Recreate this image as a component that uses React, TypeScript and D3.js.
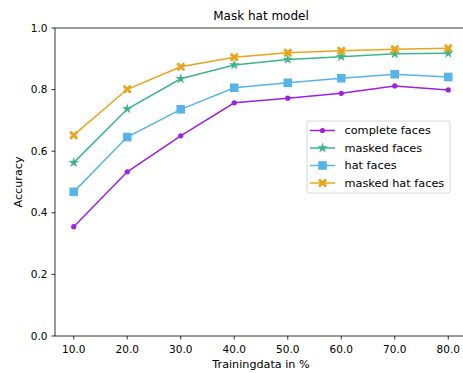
import React from "react";
import * as d3 from "d3";

const trainingShares = [10, 20, 30, 40, 50, 60, 70, 80];
const completeFaces = [0.355, 0.533, 0.65, 0.757, 0.772, 0.788, 0.812, 0.799];
const maskedFaces = [0.563, 0.737, 0.835, 0.88, 0.898, 0.907, 0.916, 0.918];
const hatFaces = [0.468, 0.646, 0.736, 0.806, 0.822, 0.837, 0.85, 0.841];
const maskedHatFaces = [0.652, 0.801, 0.874, 0.905, 0.92, 0.926, 0.931, 0.934];
const yTicks = [0, 0.2, 0.4, 0.6, 0.8, 1.0];

type Marker = "dot" | "star" | "square" | "x";
const series: { name: string; values: number[]; color: string; marker: Marker }[] = [
  { name: "complete faces", values: completeFaces, color: "#a020e0", marker: "dot" },
  { name: "masked faces", values: maskedFaces, color: "#3cb48c", marker: "star" },
  { name: "hat faces", values: hatFaces, color: "#56b4e9", marker: "square" },
  { name: "masked hat faces", values: maskedHatFaces, color: "#e8a41c", marker: "x" },
];

const W = 463;
const H = 373;
const M = { left: 55, right: 467, top: 28, bottom: 336 };
const FONT = "'DejaVu Sans', sans-serif";

const x = d3.scaleLinear().domain([6.5, 83.5]).range([M.left, M.right]);
const y = d3.scaleLinear().domain([0, 1]).range([M.bottom, M.top]);

const starPath = d3.symbol().type(d3.symbolStar).size(34)() as string;
const xPath = (() => {
  // filled, thick "X" marker
  const a = 4.5, t = 2.0;
  const pts: [number, number][] = [
    [-a, -a + t], [-a + t, -a], [0, -t], [a - t, -a], [a, -a + t], [t, 0],
    [a, a - t], [a - t, a], [0, t], [-a + t, a], [-a, a - t], [-t, 0],
  ];
  return "M" + pts.map((p) => p.join(",")).join("L") + "Z";
})();

function MarkerShape({ kind, color, cx, cy }: { kind: Marker; color: string; cx: number; cy: number }) {
  if (kind === "dot") return <circle cx={cx} cy={cy} r={2.6} fill={color} />;
  if (kind === "square")
    return <rect x={cx - 4.3} y={cy - 4.3} width={8.6} height={8.6} fill={color} />;
  if (kind === "star") return <path d={starPath} transform={`translate(${cx},${cy})`} fill={color} />;
  return <path d={xPath} transform={`translate(${cx},${cy})`} fill={color} />;
}

export default function App() {
  const line = d3
    .line<number>()
    .x((_, i) => x(trainingShares[i]))
    .y((v) => y(v));

  const legendX = 307;
  const legendY = 121;
  const rowH = 17.5;

  return (
    <div style={{ position: "absolute", left: 0, top: 0, width: W, height: H, overflow: "hidden" }}>
      <svg width={W} height={H} style={{ display: "block", background: "#fff" }} fontFamily={FONT}>
        <rect width={W} height={H} fill="#fff" />
        <text x={(M.left + M.right) / 2} y={20} textAnchor="middle" fontSize={12} fill="#000">
          Mask hat model
        </text>

        {series.map((s) => (
          <g key={s.name}>
            <path d={line(s.values) || ""} fill="none" stroke={s.color} strokeWidth={1.5} />
            {s.values.map((v, i) => (
              <MarkerShape key={i} kind={s.marker} color={s.color} cx={x(trainingShares[i])} cy={y(v)} />
            ))}
          </g>
        ))}

        {/* spines */}
        <line x1={M.left} x2={M.left} y1={M.top} y2={M.bottom} stroke="#000" strokeWidth={0.8} />
        <line x1={M.left} x2={M.right} y1={M.bottom} y2={M.bottom} stroke="#000" strokeWidth={0.8} />
        <line x1={M.left} x2={M.right} y1={M.top} y2={M.top} stroke="#000" strokeWidth={0.8} />

        {yTicks.map((t) => (
          <g key={t}>
            <line x1={M.left - 3.5} x2={M.left} y1={y(t)} y2={y(t)} stroke="#000" strokeWidth={0.8} />
            <text x={M.left - 7.5} y={y(t)} dy="0.35em" textAnchor="end" fontSize={10.5} fill="#000">
              {t.toFixed(1)}
            </text>
          </g>
        ))}
        {trainingShares.map((t) => (
          <g key={t}>
            <line x1={x(t)} x2={x(t)} y1={M.bottom} y2={M.bottom + 3.5} stroke="#000" strokeWidth={0.8} />
            <text x={x(t)} y={M.bottom + 17} textAnchor="middle" fontSize={10.5} fill="#000">
              {t.toFixed(1)}
            </text>
          </g>
        ))}

        <text x={(M.left + M.right) / 2} y={368} textAnchor="middle" fontSize={11.2} fill="#000">
          Trainingdata in %
        </text>
        <text
          transform={`translate(21.5,${(M.top + M.bottom) / 2}) rotate(-90)`}
          textAnchor="middle"
          fontSize={11.2}
          fill="#000"
        >
          Accuracy
        </text>

        {/* legend */}
        <rect
          x={legendX}
          y={legendY}
          width={143}
          height={72}
          rx={2}
          fill="#fff"
          fillOpacity={0.8}
          stroke="#ccc"
          strokeWidth={0.8}
        />
        {series.map((s, i) => {
          const cy = legendY + 9.5 + i * rowH;
          return (
            <g key={s.name}>
              <line x1={legendX + 3} x2={legendX + 28} y1={cy} y2={cy} stroke={s.color} strokeWidth={1.5} />
              <MarkerShape kind={s.marker} color={s.color} cx={legendX + 15.5} cy={cy} />
              <text x={legendX + 37.5} y={cy} dy="0.35em" fontSize={11.3} fill="#000">
                {s.name}
              </text>
            </g>
          );
        })}
      </svg>
    </div>
  );
}
